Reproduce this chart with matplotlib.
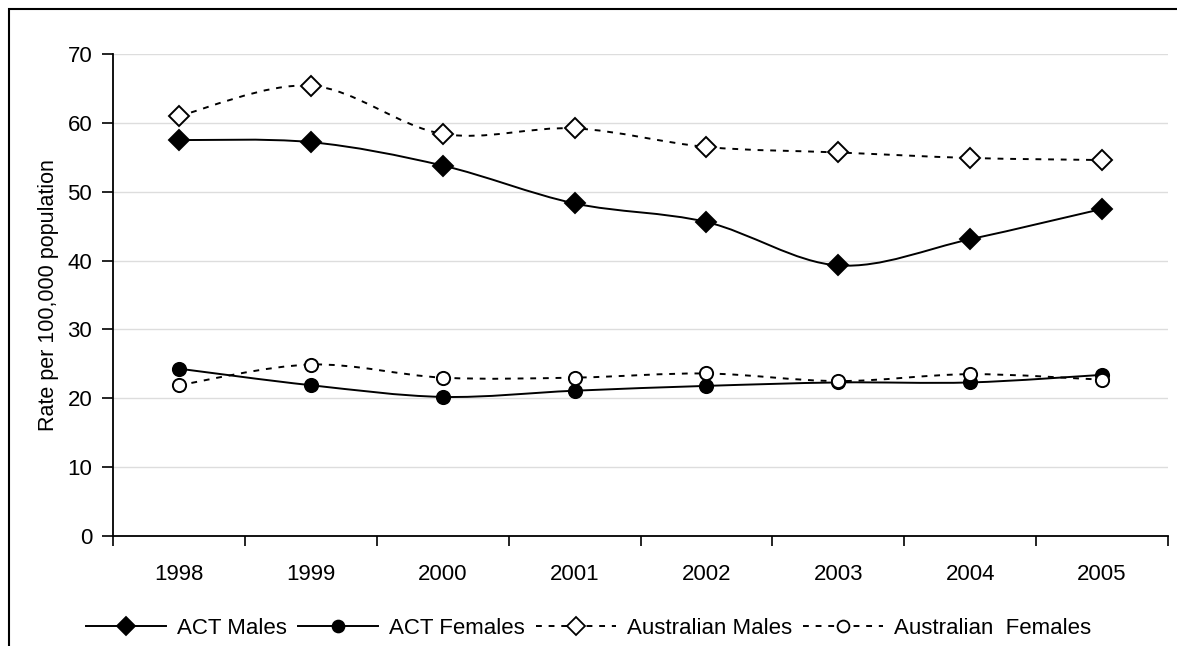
import matplotlib
matplotlib.use("Agg")
import matplotlib.pyplot as plt
import numpy as np
from matplotlib.path import Path
from matplotlib.patches import PathPatch, Rectangle
from matplotlib.lines import Line2D

plt.rcParams['font.family'] = ['Liberation Sans', 'DejaVu Sans']

years = ['1998', '1999', '2000', '2001', '2002', '2003', '2004', '2005']
act_males = [57.5, 57.2, 53.8, 48.3, 45.6, 39.3, 43.1, 47.5]
act_females = [24.3, 21.9, 20.2, 21.1, 21.8, 22.3, 22.3, 23.4]
aus_males = [61.0, 65.4, 58.4, 59.2, 56.5, 55.7, 54.9, 54.6]
aus_females = [21.9, 24.9, 23.0, 23.0, 23.6, 22.5, 23.5, 22.7]

W, H = 1177, 646
fig = plt.figure(figsize=(W / 100, H / 100), dpi=100)
ax = fig.add_axes([113 / W, 1 - 536 / H, (1168 - 113) / W, (536 - 54) / H])

x = np.arange(len(years))


def smooth_path(xs, ys):
    pts = np.column_stack([xs, ys]).astype(float)
    n = len(pts)
    verts = [pts[0]]
    codes = [Path.MOVETO]
    for i in range(n - 1):
        p0 = pts[i - 1] if i > 0 else pts[i]
        p1 = pts[i]
        p2 = pts[i + 1]
        p3 = pts[i + 2] if i + 2 < n else pts[i + 1]
        c1 = p1 + (p2 - p0) / 6.0
        c2 = p2 - (p3 - p1) / 6.0
        verts += [c1, c2, p2]
        codes += [Path.CURVE4] * 3
    return Path(verts, codes)


dots = (0, (3, 3.5))
series = [
    ('ACT Males', act_males, '-', 'D', 'black'),
    ('ACT Females', act_females, '-', 'o', 'black'),
    ('Australian Males', aus_males, dots, 'D', 'white'),
    ('Australian  Females', aus_females, dots, 'o', 'white'),
]

handles = []
for label, vals, ls, mk, fc in series:
    patch = PathPatch(smooth_path(x, vals), facecolor='none', edgecolor='black',
                      lw=1.4, linestyle=ls, zorder=3)
    ax.add_patch(patch)
    ms = 10 if mk == 'D' else 9.5
    ax.plot(x, vals, linestyle='none', marker=mk, markersize=ms,
            markerfacecolor=fc, markeredgecolor='black', markeredgewidth=1.4, zorder=4)
    handles.append(Line2D([0], [0], color='black', lw=1.4, linestyle=ls,
                          marker=mk, markersize=ms * 0.9, markerfacecolor=fc,
                          markeredgecolor='black', markeredgewidth=1.3, label=label))

FS = 16
ax.set_xlim(-0.5, len(years) - 0.5)
ax.set_ylim(0, 70)
ax.set_yticks(np.arange(0, 71, 10))
ax.set_xticks(x)
ax.set_xticklabels(years)
ax.set_xticks(np.arange(-0.5, len(years), 1.0), minor=True)
ax.tick_params(axis='x', which='major', length=0, pad=20, labelsize=FS)
ax.tick_params(axis='x', which='minor', length=7, width=1.2, direction='out')
ax.tick_params(axis='y', length=8, width=1.2, direction='out', pad=7, labelsize=FS)
ax.yaxis.grid(True, color='#dddddd', lw=1)
ax.set_axisbelow(True)
for s in ['top', 'right']:
    ax.spines[s].set_visible(False)
for s in ['left', 'bottom']:
    ax.spines[s].set_linewidth(1.3)

ax.set_ylabel('Rate per 100,000 population', fontsize=15.5, labelpad=6)

fig.legend(handles=handles, loc='center', bbox_to_anchor=(0.5, 1 - 628 / H),
           ncol=4, frameon=False, fontsize=FS, handlelength=3.6,
           columnspacing=0.5, handletextpad=0.5, markerscale=1)

fig.patches.append(Rectangle((9 / W, -0.1), 1.2, 1 - 9 / H + 0.1,
                             transform=fig.transFigure, fill=False,
                             edgecolor='black', lw=1.5))

fig.savefig('out.png', dpi=100)
